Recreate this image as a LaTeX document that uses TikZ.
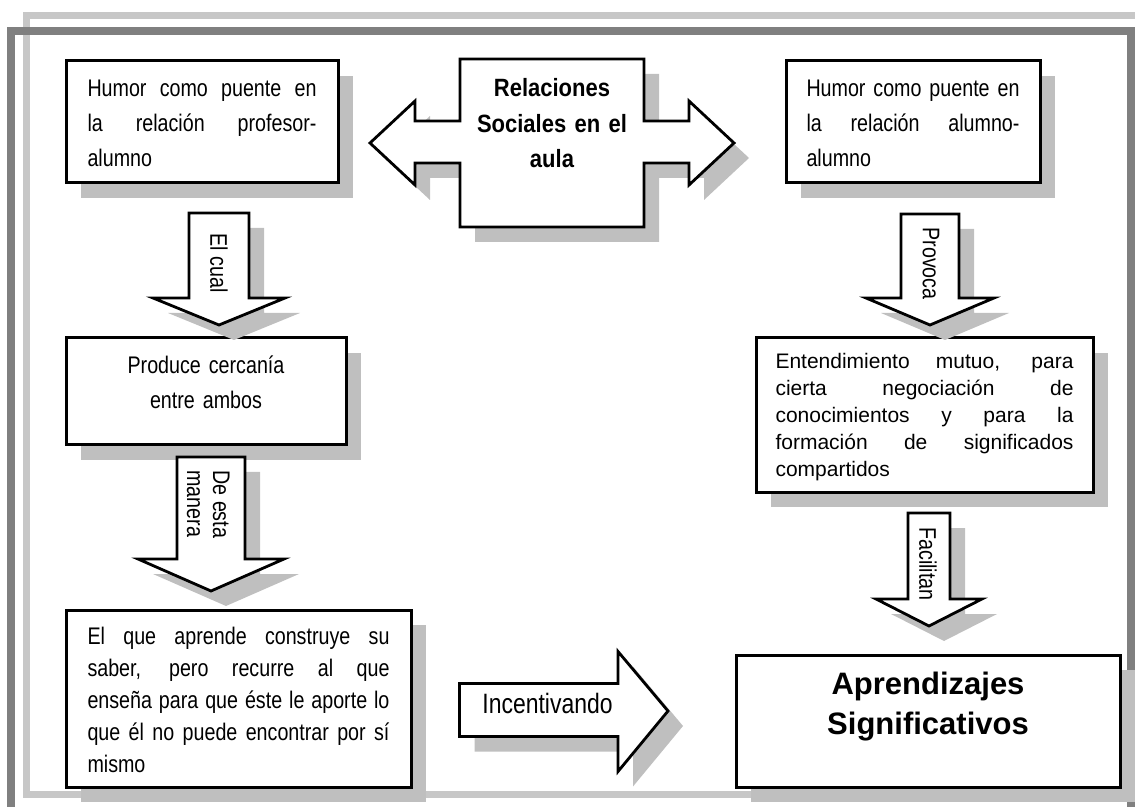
\documentclass[tikz,border=0pt]{standalone}
\usepackage{fontspec}
\setmainfont{Liberation Sans}
\newfontfamily\estrecha{Liberation Sans}[FakeStretch=0.82]
\newfontfamily\semiestrecha{Liberation Sans}[FakeStretch=0.88]
\usetikzlibrary{shadows}
\definecolor{sombra}{gray}{0.75}
\definecolor{marcoclaro}{gray}{0.78}
\definecolor{marcooscuro}{gray}{0.5}
\tolerance=10000
\hyphenpenalty=10000

\tikzstyle{ombre}=[drop shadow={shadow xshift=7.5pt,shadow yshift=-7.5pt,fill=sombra,opacity=1}]
\tikzstyle{bloque}=[draw,line width=1.4pt,fill=white,ombre]
\tikzstyle{caja}=[bloque,line width=1.5pt,anchor=north west,inner ysep=0pt,align=justify,font=\estrecha\fontsize{12}{17.5}\selectfont]
\tikzstyle{etiq}=[inner sep=0pt,font=\estrecha\fontsize{12}{13}\selectfont]

\begin{document}
\begin{tikzpicture}[x=0.5pt,y=-0.5pt]
\useasboundingbox (0,0) rectangle (1135,807);
\clip (0,0) rectangle (1135,807);
\draw[marcoclaro,line width=3.5pt] (26.5,15.5) rectangle (1160,794.5);
\draw[marcooscuro,line width=4pt] (11,31) rectangle (1131,830);

\node[caja,inner xsep=10.75pt,text width=114.5pt,text height=17.75pt,text depth=43.25pt] (humProf) at (64.5,59.5)
  {Humor como puente en\linebreak la relación profesor-\linebreak alumno};
\node[caja,inner xsep=10.25pt,text width=106.5pt,text height=17.75pt,text depth=43.25pt] (humAlum) at (784.5,59.5)
  {Humor como puente en\linebreak la relación alumno-\linebreak alumno};
\node[caja,align=center,inner xsep=10pt,text width=120pt,text height=17.75pt,text depth=35.75pt] (cercania) at (64.5,336.5)
  {Produce cercanía\\entre ambos};
\node[caja,font=\estrecha\fontsize{12}{16}\selectfont,inner xsep=10.75pt,text width=151pt,text height=17.25pt,text depth=71.25pt] (aprende) at (64.5,608.5)
  {El que aprende construye su\linebreak saber, pero recurre al que\linebreak enseña para que éste le aporte lo\linebreak que él no puede encontrar por sí\linebreak mismo};
\node[caja,font=\fontsize{10.5}{13.5}\selectfont,inner xsep=9.75pt,text width=149pt,text height=15.25pt,text depth=61.75pt] (entendimiento) at (754.5,336.5)
  {Entendimiento mutuo, para\linebreak cierta negociación de\linebreak conocimientos y para la\linebreak formación de significados\linebreak compartidos};
\node[caja,align=center,font=\bfseries\fontsize{15.5}{20}\selectfont,inner xsep=10pt,text width=172pt,text height=19.75pt,text depth=46.25pt] (aprendizajes) at (734.5,653.5)
  {Aprendizajes\\Significativos};

\draw[bloque] (460,59) -- (644,59) -- (644,121) -- (689,121) -- (689,101) -- (734,143) -- (689,185) -- (689,163)
  -- (644,163) -- (644,227) -- (460,227) -- (460,163) -- (415,163) -- (415,185) -- (370,143) -- (415,101) -- (415,121) -- (460,121) -- cycle;
\node[font=\semiestrecha\bfseries\fontsize{12.5}{17.75}\selectfont,text width=90pt,align=center,anchor=base] (relaciones) at (552,97)
  {Relaciones\\Sociales en el\\aula};

\foreach \cx/\ya/\sa/\yb/\ha/\yc in {219/213/30/298/66/325, 211/457/34/559/73/591, 930/214/29/298/64/325, 929/513/21/599/53/626}
\draw[bloque] (\cx-\sa,\ya) -- (\cx+\sa,\ya) -- (\cx+\sa,\yb) -- (\cx+\ha,\yb) -- (\cx,\yc) -- (\cx-\ha,\yb) -- (\cx-\sa,\yb) -- cycle;
\draw[bloque] (459.5,683.5) -- (618,683.5) -- (618,651.5) -- (668,711) -- (618,771.5) -- (618,736.5) -- (459.5,736.5) -- cycle;

\node[etiq,rotate=-90,anchor=west] (elCual) at (219,233) {El cual};
\node[etiq,rotate=-90,anchor=north west,align=left] (deEsta) at (230,470) {De esta\\manera};
\node[etiq,rotate=-90,anchor=west] (provoca) at (931,227) {Provoca};
\node[etiq,rotate=-90,anchor=west] (facilitan) at (928,527) {Facilitan};
\node[etiq,font=\estrecha\fontsize{14}{16}\selectfont,anchor=base west] (incentivando) at (482,713) {Incentivando};
\end{tikzpicture}
\end{document}
